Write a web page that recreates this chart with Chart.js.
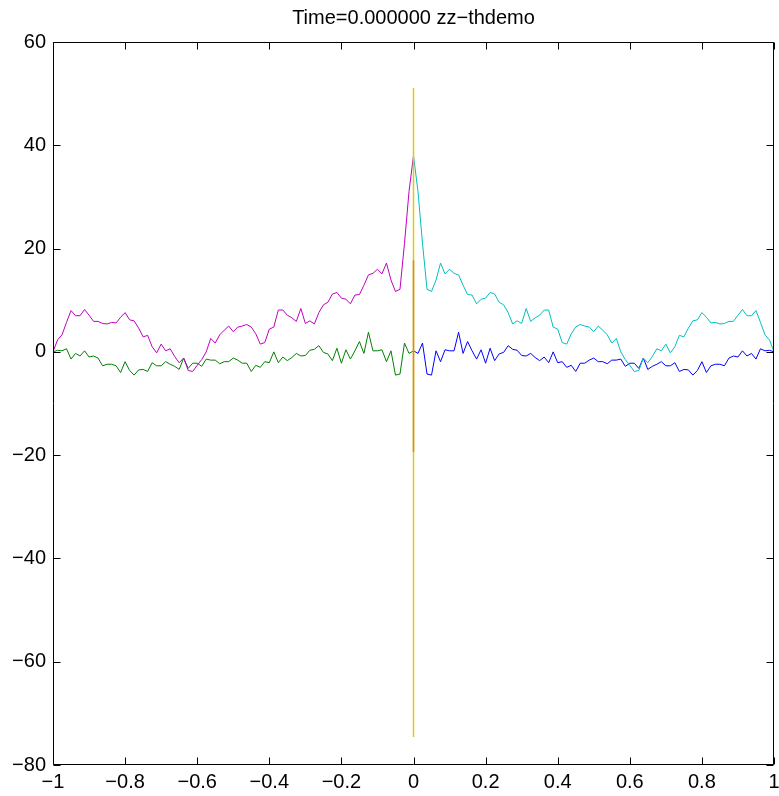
<!DOCTYPE html>
<html>
<head>
<meta charset="utf-8">
<title>zz-thdemo</title>
<script src="https://cdn.jsdelivr.net/npm/chart.js@4.4.0/dist/chart.umd.min.js"></script>
<style>
  html, body { margin: 0; padding: 0; background: #fff; }
  #wrap { width: 779px; height: 796px; }
</style>
</head>
<body>
<div id="wrap"><canvas id="plot" width="779" height="796"></canvas></div>
<script>
// lag grid: 81 samples per side, negative lags run -1..0, positive lags 0..1
const lagStep = 0.0125;

// negative-lag traces
const magentaLeft = [
  0, 2.3, 3.3, 5.7, 8.0, 7.0, 7.0, 8.2, 7.1, 5.9,
  5.9, 5.5, 5.4, 5.7, 5.6, 6.7, 7.6, 6.2, 6.0, 4.6,
  2.9, 3.2, 1.0, -0.2, 1.5, 0.2, 0.6, -0.9, -2.1, -1.2,
  -3.6, -3.8, -2.6, -1.5, 0.0, 2.6, 1.7, 3.3, 4.2, 5.0,
  3.9, 4.8, 5.0, 5.3, 4.8, 3.5, 1.5, 1.8, 4.4, 4.8,
  8.1, 8.1, 7.1, 6.6, 5.9, 8.4, 5.5, 6.0, 5.4, 7.6,
  9.1, 9.6, 11.2, 11.5, 10.4, 10.2, 9.3, 11.0, 11.1, 12.9,
  14.9, 15.2, 16.0, 15.1, 17.2, 13.9, 11.7, 12.1, 21, 31,
  38
];
const greenLeft = [
  0, 0.3, 0.2, 0.6, -1.4, -0.3, -0.8, 0.2, -1.0, -0.8,
  -1.2, -2.7, -2.4, -2.4, -2.7, -4.0, -1.9, -3.6, -4.5, -3.5,
  -3.4, -3.8, -2.1, -2.7, -2.7, -1.9, -2.4, -2.8, -3.4, -1.2,
  -3.2, -2.2, -2.2, -2.8, -1.4, -1.6, -1.6, -2.3, -1.9, -1.9,
  -1.2, -1.6, -2.2, -2.2, -3.8, -2.6, -3.0, -1.9, -2.1, 0.0,
  -2.1, -1.0, -1.7, -1.1, -0.3, -0.8, -0.7, 0.3, 0.5, 1.2,
  -0.1, -0.4, -1.7, 0.7, -2.2, 0.4, -1.4, 0.2, 2.0, -0.3,
  3.8, 0.2, 0.2, 0.4, -1.9, 0.2, -4.5, -4.3, 1.7, -0.3,
  0.2
];

// positive-lag traces
const cyanRight = [
  38, 31, 21, 12.1, 11.7, 13.9, 17.2, 15.1, 16.0, 15.2,
  14.9, 12.9, 11.1, 11.0, 9.3, 10.2, 10.4, 11.5, 11.2, 9.6,
  9.1, 7.6, 5.4, 6.0, 5.5, 8.4, 5.9, 6.6, 7.1, 8.1,
  8.1, 4.8, 4.4, 1.8, 1.5, 3.5, 4.8, 5.3, 5.0, 4.8,
  3.9, 5.0, 4.2, 3.3, 1.7, 2.6, 0.0, -1.5, -2.6, -3.8,
  -3.6, -1.2, -2.1, -0.9, 0.6, 0.2, 1.5, -0.2, 1.0, 3.2,
  2.9, 4.6, 6.0, 6.2, 7.6, 6.7, 5.6, 5.7, 5.4, 5.5,
  5.9, 5.9, 7.1, 8.2, 7.0, 7.0, 8.0, 5.7, 3.3, 2.3,
  0
];
const blueRight = [
  0.2, -0.3, 1.7, -4.3, -4.5, 0.2, -1.9, 0.4, 0.2, 0.2,
  3.8, -0.3, 2.0, 0.2, -1.4, 0.4, -2.2, 0.7, -1.7, -0.4,
  -0.1, 1.2, 0.5, 0.3, -0.7, -0.8, -0.3, -1.1, -1.7, -1.0,
  -2.1, 0.0, -2.1, -1.9, -3.0, -2.6, -3.8, -2.2, -2.2, -1.6,
  -1.2, -1.9, -1.9, -2.3, -1.6, -1.6, -1.4, -2.8, -2.2, -2.2,
  -3.2, -1.2, -3.4, -2.8, -2.4, -1.9, -2.7, -2.7, -2.1, -3.8,
  -3.4, -3.5, -4.5, -3.6, -1.9, -4.0, -2.7, -2.4, -2.4, -2.7,
  -1.2, -0.8, -1.0, 0.2, -0.8, -0.3, -1.4, 0.6, 0.2, 0.3,
  0
];

// zero-lag markers (bottom, top)
const yellowSpan = [-74.6, 51.1];
const orangeSpan = [-19.4, 17.7];

const xTicks = [-1, -0.8, -0.6, -0.4, -0.2, 0, 0.2, 0.4, 0.6, 0.8, 1];
const yTicks = [-80, -60, -40, -20, 0, 20, 40, 60];

const titleText = 'Time=0.000000 zz\u2212thdemo';
const fontFamily = '"Liberation Sans", Arial, Helvetica, sans-serif';
const fontSize = 20;

function lagPoints(start, vals) {
  return vals.map((v, i) => ({ x: start + i * lagStep, y: v }));
}

function spanPoints(span) {
  return [{ x: 0, y: span[0] }, { x: 0, y: span[1] }];
}

// labels with a real minus sign and no float noise
function fmtTick(v) {
  const r = Math.round(v * 1000) / 1000;
  return String(r).replace('-', '\u2212');
}

function line(data, color, width) {
  return {
    data,
    borderColor: color,
    backgroundColor: color,
    borderWidth: width || 1,
    pointRadius: 0,
    showLine: true,
    tension: 0,
    fill: false
  };
}

// box around the axes with inward tick marks on all four sides,
// plus the title centred over the plot area
const axesBox = {
  id: 'axesBox',
  afterDatasetsDraw(chart) {
    const { ctx, chartArea: a, scales } = chart;
    const tl = 7;
    const L = Math.round(a.left) + 0.5;
    const R = Math.round(a.right) - 0.5;
    const T = Math.round(a.top) + 0.5;
    const B = Math.round(a.bottom) - 0.5;
    ctx.save();
    ctx.strokeStyle = '#000';
    ctx.lineWidth = 1;
    ctx.beginPath();
    ctx.rect(L, T, R - L, B - T);
    xTicks.forEach(v => {
      const px = Math.round(scales.x.getPixelForValue(v)) + 0.5;
      ctx.moveTo(px, B); ctx.lineTo(px, B - tl);
      ctx.moveTo(px, T); ctx.lineTo(px, T + tl);
    });
    yTicks.forEach(v => {
      const py = Math.round(scales.y.getPixelForValue(v)) + 0.5;
      ctx.moveTo(L, py); ctx.lineTo(L + tl, py);
      ctx.moveTo(R, py); ctx.lineTo(R - tl, py);
    });
    ctx.stroke();

    ctx.fillStyle = '#000';
    ctx.font = fontSize + 'px ' + fontFamily;
    ctx.textAlign = 'center';
    ctx.textBaseline = 'middle';
    ctx.fillText(titleText, (a.left + a.right) / 2, 18);
    ctx.restore();
  }
};

const tickFont = { family: fontFamily, size: fontSize };

function noPad(s) {
  s.paddingLeft = 0; s.paddingRight = 0;
  s.paddingTop = 0; s.paddingBottom = 0;
}

new Chart(document.getElementById('plot'), {
  type: 'scatter',
  data: {
    datasets: [
      line(spanPoints(orangeSpan), 'rgb(218,140,30)', 1.5),
      line(spanPoints(yellowSpan), 'rgb(224,198,30)', 1.5),
      line(lagPoints(0, cyanRight), '#00bfbf'),
      line(lagPoints(0, blueRight), '#0000ff'),
      line(lagPoints(-1, magentaLeft), '#bf00bf'),
      line(lagPoints(-1, greenLeft), '#008000')
    ]
  },
  options: {
    responsive: false,
    animation: false,
    events: [],
    layout: { padding: { left: 0, right: 5, top: 42, bottom: 0 } },
    scales: {
      x: {
        type: 'linear',
        min: -1,
        max: 1,
        grid: { display: false, drawTicks: false },
        border: { display: false },
        afterBuildTicks: s => { s.ticks = xTicks.map(v => ({ value: v })); },
        afterFit: s => { s.height = 31; noPad(s); },
        ticks: {
          font: tickFont,
          color: '#000',
          padding: 5,
          maxRotation: 0,
          autoSkip: false,
          callback: v => fmtTick(v)
        }
      },
      y: {
        type: 'linear',
        min: -80,
        max: 60,
        grid: { display: false, drawTicks: false },
        border: { display: false },
        afterBuildTicks: s => { s.ticks = yTicks.map(v => ({ value: v })); },
        afterFit: s => { s.width = 53; noPad(s); },
        ticks: {
          font: tickFont,
          color: '#000',
          padding: 7,
          autoSkip: false,
          callback: v => fmtTick(v)
        }
      }
    },
    plugins: {
      legend: { display: false },
      tooltip: { enabled: false },
      title: { display: false }
    }
  },
  plugins: [axesBox]
});
</script>
</body>
</html>
